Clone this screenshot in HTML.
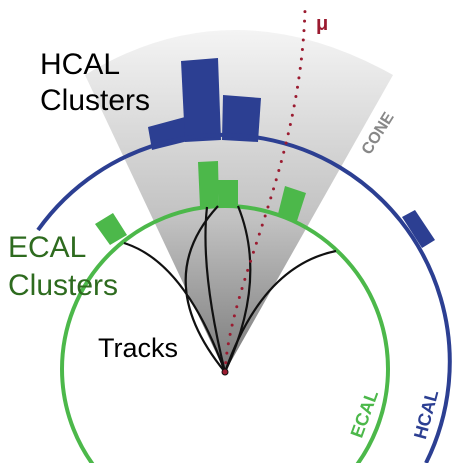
<!DOCTYPE html>
<html><head><meta charset="utf-8"><style>
html,body{margin:0;padding:0;background:#fff;width:463px;height:463px;overflow:hidden}
svg{display:block}
text{font-family:"Liberation Sans",sans-serif}
</style></head><body>
<svg width="463" height="463" viewBox="0 0 463 463">
<defs>
<linearGradient id="cg" x1="0" y1="1" x2="0" y2="0">
<stop offset="0" stop-color="#7a7a7a"/>
<stop offset="0.45" stop-color="#c2c2c2"/>
<stop offset="1" stop-color="#f4f4f4"/>
</linearGradient>
<clipPath id="clip"><rect x="0" y="0" width="463" height="463"/></clipPath>
</defs>
<g clip-path="url(#clip)">
<path d="M225,372 L85,75 Q232,-15 393,75 Z" fill="url(#cg)"/>
<g fill="#2c3f92">
<polygon points="148,127 185,117 188,141 152,150"/>
<polygon points="181,61 218,58 221,140 185,142"/>
<polygon points="223,95 261,98 258,142 222,140"/>
<polygon points="402,217 415,210 435,240 422,248"/>
</g>
<path d="M38,230 A227,227 0 0,1 426,463" fill="none" stroke="#2c3f92" stroke-width="4"/>
<g fill="#4cb84a">
<polygon points="198,162 218,161 219,207 200,207"/>
<polygon points="218,180 238,180 238,207 219,207"/>
<polygon points="285,186 306,193 297,221 278,214"/>
<polygon points="95,224 113,213 127,235 110,245"/>
</g>
<circle cx="225" cy="369" r="163" fill="none" stroke="#4cb84a" stroke-width="4"/>
<g fill="none" stroke="#111" stroke-width="2.2">
<path d="M225,372 Q185,262 124,243"/>
<path d="M225,372 Q262,266 336,251"/>
<path d="M225,372 Q150,280 218,206"/>
<path d="M225,372 Q200,270 207,207"/>
<path d="M225,372 Q268,280 238,206"/>
</g>
<path d="M225,372 C230,280 300,170 305,10" fill="none" stroke="#9b1b30" stroke-width="3" stroke-linecap="round" stroke-dasharray="0 9.5"/>
<circle cx="225" cy="372" r="3" fill="#9b1b30" stroke="#111" stroke-width="1"/>
<text x="316" y="30" font-size="20" font-weight="bold" fill="#9b1b30">μ</text>
<text x="40" y="74" font-size="30" fill="#000">HCAL</text>
<text x="40" y="110" font-size="30" fill="#000">Clusters</text>
<text x="8" y="257" font-size="30" fill="#2e6b1f">ECAL</text>
<text x="8" y="295" font-size="30" fill="#2e6b1f">Clusters</text>
<text x="98" y="357" font-size="27" fill="#000">Tracks</text>
<text transform="translate(382,136) rotate(-58)" text-anchor="middle" font-size="16" font-weight="bold" fill="#888">CONE</text>
<text transform="translate(370,416) rotate(-70)" text-anchor="middle" font-size="18" font-weight="bold" fill="#4cb84a">ECAL</text>
<text transform="translate(432,416) rotate(-75)" text-anchor="middle" font-size="18" font-weight="bold" fill="#2c3f92">HCAL</text>
</g>
</svg>
</body></html>
